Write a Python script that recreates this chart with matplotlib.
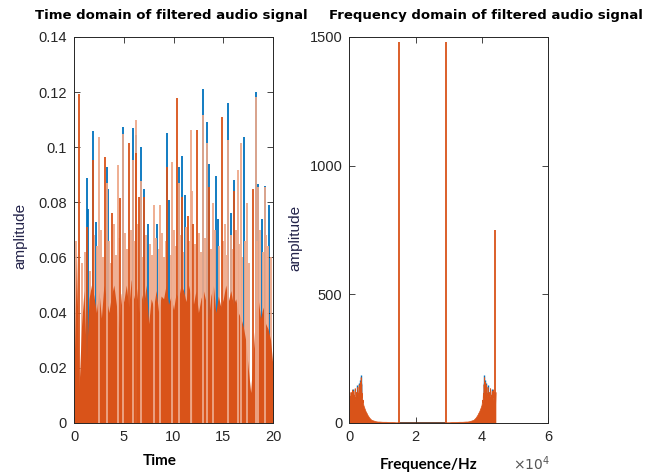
import numpy as np
import matplotlib
matplotlib.use("Agg")
import matplotlib.pyplot as plt

# ---- time domain (seconds, amplitude) ----
# solid body of the orange channel, sampled every 0.25 s
body_t = np.linspace(0, 20, 81)
body_v = [0.018, 0.062, 0.012, 0.035, 0.048, 0.022, 0.045, 0.050, 0.046, 0.040,
          0.048, 0.038, 0.050, 0.045, 0.040, 0.046, 0.050, 0.043, 0.034, 0.047,
          0.044, 0.050, 0.042, 0.052, 0.045, 0.050, 0.040, 0.047, 0.043, 0.050,
          0.036, 0.045, 0.042, 0.048, 0.040, 0.046, 0.045, 0.050, 0.043, 0.046,
          0.041, 0.047, 0.045, 0.050, 0.048, 0.044, 0.050, 0.046, 0.043, 0.048,
          0.040, 0.045, 0.048, 0.044, 0.037, 0.046, 0.050, 0.040, 0.046, 0.042,
          0.045, 0.050, 0.044, 0.048, 0.043, 0.045, 0.040, 0.038, 0.035, 0.030,
          0.020, 0.011, 0.025, 0.040, 0.045, 0.038, 0.042, 0.036, 0.034, 0.030,
          0.020]

# tall peaks, channel 1 (blue)
blue_t = [1.3, 1.4, 1.87, 2.2, 3.3, 3.45, 4.88, 5.89, 6.22, 6.75, 7.08, 7.4,
          8.33, 9.33, 9.55, 10.5, 10.8, 11.16, 13.0, 13.33, 13.56, 14.24, 14.5,
          15.52, 15.75, 16.12, 17.03, 18.27, 18.5, 18.9, 19.17, 19.57]
blue_h = [0.0887, 0.0776, 0.1059, 0.073, 0.093, 0.085, 0.1073, 0.107, 0.1044,
          0.100, 0.085, 0.072, 0.072, 0.105, 0.081, 0.0927, 0.0968, 0.0825,
          0.121, 0.1093, 0.094, 0.0895, 0.074, 0.116, 0.076, 0.0882, 0.1038,
          0.1202, 0.0867, 0.074, 0.086, 0.079]

# tall peaks, channel 2 (orange)
orange_t = [0.53, 1.3, 1.87, 3.08, 3.8, 4.65, 5.55, 6.22, 6.5, 7.08, 9.33,
            10.33, 10.8, 11.5, 12.0, 12.37, 13.56, 14.85, 16.12, 18.03]
orange_h = [0.1193, 0.071, 0.0955, 0.0965, 0.076, 0.0815, 0.1015, 0.098, 0.082,
            0.082, 0.093, 0.1178, 0.082, 0.075, 0.072, 0.1062, 0.0857, 0.111,
            0.084, 0.085]
light_t = [2.47, 3.3, 4.41, 4.88, 5.89, 6.22, 6.75, 8.0, 8.66, 9.83, 10.5,
           11.77, 11.9, 13.0, 13.33, 14.0, 15.52, 16.45, 16.75, 17.35, 18.27,
           18.5, 19.17]
light_h = [0.1036, 0.087, 0.0934, 0.1049, 0.0953, 0.1098, 0.0878, 0.079, 0.079,
           0.0947, 0.087, 0.1062, 0.084, 0.1117, 0.1015, 0.0797, 0.1026, 0.0917,
           0.1015, 0.0797, 0.1184, 0.0855, 0.0855]

# medium peaks that make the ragged top of the body
mid_t = [0.2, 0.8, 1.1, 1.6, 2.0, 2.3, 2.7, 2.9, 3.5, 3.7, 4.0, 4.2, 4.5, 5.1,
         5.3, 5.7, 6.0, 6.4, 6.9, 7.2, 7.6, 7.8, 8.2, 8.5, 8.8, 9.0, 9.2, 9.7,
         10.0, 10.2, 10.6, 11.0, 11.3, 11.6, 12.2, 12.6, 12.8, 13.2, 13.8, 14.2,
         14.6, 15.0, 15.2, 15.4, 15.8, 16.0, 16.3, 16.6, 16.9, 17.2, 17.6, 18.4,
         18.7, 19.0, 19.3, 19.5, 19.8]
mid_h = [0.066, 0.058, 0.062, 0.055, 0.068, 0.064, 0.070, 0.060, 0.066, 0.058,
         0.072, 0.061, 0.067, 0.069, 0.063, 0.070, 0.066, 0.072, 0.060, 0.068,
         0.065, 0.061, 0.067, 0.063, 0.069, 0.060, 0.066, 0.061, 0.070, 0.064,
         0.068, 0.062, 0.071, 0.066, 0.065, 0.069, 0.062, 0.067, 0.063, 0.070,
         0.064, 0.066, 0.072, 0.061, 0.068, 0.063, 0.070, 0.065, 0.060, 0.066,
         0.058, 0.066, 0.070, 0.062, 0.068, 0.064, 0.060]

time_ticks = [0, 5, 10, 15, 20]
amp_ticks = [0, 0.02, 0.04, 0.06, 0.08, 0.1, 0.12, 0.14]
amp_labels = ['0', '0.02', '0.04', '0.06', '0.08', '0.1', '0.12', '0.14']

# ---- frequency domain (Hz, magnitude), low band up to the first tone ----
spec_f = [0, 100, 200, 300, 400, 500, 600, 700, 800, 900, 1000, 1100, 1200,
          1300, 1400, 1500, 1600, 1700, 1800, 1900, 2000, 2100, 2200, 2300,
          2400, 2500, 2600, 2700, 2800, 2900, 3000, 3100, 3200, 3300, 3400,
          3500, 3600, 3700, 3800, 3900, 4000, 4200, 4400, 4600, 4800, 5000,
          5200, 5400, 5600, 5800, 6000, 6300, 6600, 7000, 7500, 8000, 8500,
          9000, 10000, 11000, 12000, 13000, 14000, 14800]
spec_m = [120, 70, 105, 80, 120, 95, 85, 115, 130, 100, 125, 90, 110, 80, 95,
          120, 135, 95, 100, 75, 120, 105, 90, 125, 140, 110, 115, 95, 150, 120,
          105, 130, 160, 120, 178, 130, 150, 100, 115, 80, 90, 70, 62, 55, 48,
          42, 38, 32, 28, 24, 20, 16, 12, 10, 8, 6, 5, 5, 4, 4, 3, 3, 2, 2]
# channel 1 peeks above channel 2 at a few bins
spec_blue_f = [1000, 2400, 2800, 3200, 3400, 3600]
spec_blue_m = [132, 146, 156, 166, 186, 156]
# pure tones
tone_f = [0, 14900, 29200, 44050]
tone_m = [750, 1480, 1480, 750]
fs = 44100  # spectrum is mirrored about fs/2

freq_ticks = [0, 20000, 40000, 60000]
freq_labels = ['0', '2', '4', '6']
mag_ticks = [0, 500, 1000, 1500]

BLUE = '#0072BD'
ORANGE = '#D95319'
LIGHT = '#EEA889'
INK = '#262626'


def style_axes(ax):
    for s in ax.spines.values():
        s.set_color(INK)
        s.set_linewidth(0.7)
        s.set_zorder(10)
    ax.tick_params(direction='in', length=4, width=0.6, top=True, right=True,
                   labelsize=10.5, colors=INK, pad=5)


plt.rcParams['font.family'] = ['Liberation Sans', 'DejaVu Sans']
fig = plt.figure(figsize=(6.58, 4.74), dpi=100)

# left: time domain
ax1 = fig.add_axes([0.1125, 0.108, 0.3025, 0.814])
ax1.vlines(blue_t, 0, blue_h, color=BLUE, lw=1.3, zorder=1)
ax1.vlines(mid_t, 0, mid_h, color=LIGHT, lw=1.3, zorder=2)
ax1.fill_between(body_t, 0, body_v, color=ORANGE, lw=0, zorder=3)
ax1.vlines(light_t, 0, light_h, color=LIGHT, lw=1.3, zorder=4)
ax1.vlines(orange_t, 0, orange_h, color=ORANGE, lw=1.3, zorder=5)
ax1.set_xlim(0, 20)
ax1.set_ylim(0, 0.14)
ax1.set_xticks(time_ticks)
ax1.set_yticks(amp_ticks)
ax1.set_yticklabels(amp_labels)
style_axes(ax1)
ax1.set_xlabel('Time', fontsize=11, fontweight='bold', fontfamily='Lato', color='black')
ax1.xaxis.set_label_coords(0.432, -0.08)
ax1.set_ylabel('amplitude', fontsize=11, color='#24244a')
ax1.yaxis.set_label_coords(-0.235, 0.484)

# right: frequency domain
ax2 = fig.add_axes([0.531, 0.108, 0.302, 0.814])
hi_f = [fs - f for f in spec_f[::-1]]
hi_m = spec_m[::-1]
ax2.vlines(spec_blue_f, 0, spec_blue_m, color=BLUE, lw=1.0, zorder=1)
ax2.vlines([fs - f for f in spec_blue_f], 0, spec_blue_m, color=BLUE, lw=1.0, zorder=1)
ax2.fill_between(spec_f, 0, spec_m, color=ORANGE, lw=0.5, edgecolor=ORANGE, zorder=2)
ax2.fill_between(hi_f, 0, hi_m, color=ORANGE, lw=0.5, edgecolor=ORANGE, zorder=2)
ax2.plot([tone_f[1], tone_f[2]], [0, 0], color='#5a2a14', lw=1.2, zorder=3)
ax2.vlines(tone_f, 0, tone_m, color=ORANGE, lw=1.3, zorder=4)
ax2.set_xlim(0, 60000)
ax2.set_ylim(0, 1500)
ax2.set_xticks(freq_ticks)
ax2.set_xticklabels(freq_labels)
ax2.set_yticks(mag_ticks)
style_axes(ax2)
ax2.set_xlabel('Frequence/Hz', fontsize=11, fontweight='bold', fontfamily='Lato', color='black')
ax2.xaxis.set_label_coords(0.397, -0.09)
ax2.set_ylabel('amplitude', fontsize=11, color='#24244a')
ax2.yaxis.set_label_coords(-0.235, 0.48)
fig.text(513 / 658, 1 - 464 / 474, r'$\times 10^{4}$', fontsize=10, color='#555555',
         ha='left', va='center')

# titles
fig.text(171 / 658, 1 - 15 / 474, 'Time domain of filtered audio signal',
         fontsize=9.5, fontweight='bold', fontfamily='DejaVu Sans', ha='center', va='center')
fig.text(486 / 658, 1 - 16 / 474, 'Frequency domain of filtered audio signal',
         fontsize=9.5, fontweight='bold', fontfamily='DejaVu Sans', ha='center', va='center')

fig.savefig('out.png', dpi=100)
